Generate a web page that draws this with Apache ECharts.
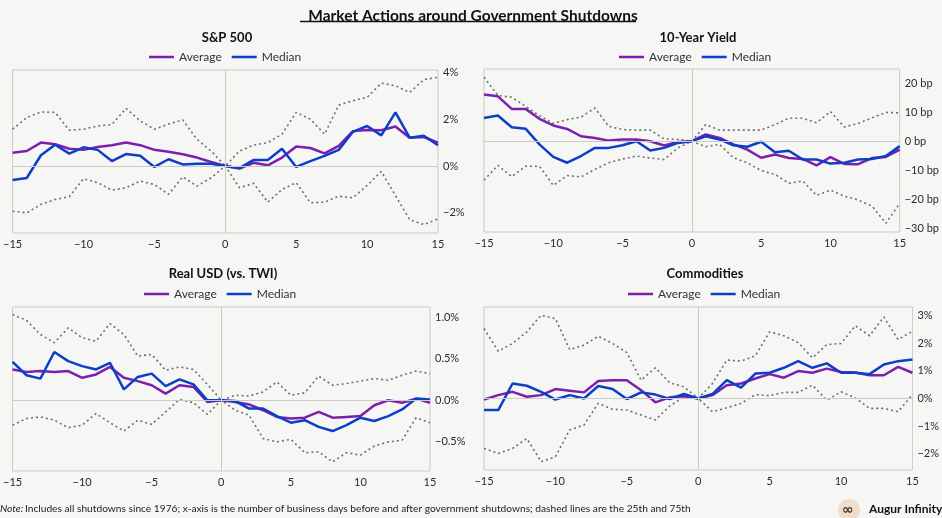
<!DOCTYPE html>
<html><head><meta charset="utf-8">
<script src="https://cdn.jsdelivr.net/npm/echarts@6/dist/echarts.min.js"></script>
<style>html,body{margin:0;padding:0;background:#f6f6f4;}#c{width:942px;height:518px;}</style>
</head><body><div id="c"></div>
<script>
const days = [-15,-14,-13,-12,-11,-10,-9,-8,-7,-6,-5,-4,-3,-2,-1,0,1,2,3,4,5,6,7,8,9,10,11,12,13,14,15];
const xTicks = [-15,-10,-5,0,5,10,15];

const spxAvg = [0.57,0.64,1.0,0.93,0.74,0.69,0.81,0.89,1.0,0.89,0.69,0.61,0.5,0.36,0.17,0,-0.11,0.14,0.03,0.36,0.83,0.77,0.54,0.86,1.49,1.54,1.53,1.69,1.21,1.24,1.0];
const spxMed = [-0.6,-0.51,0.46,0.91,0.53,0.8,0.69,0.21,0.51,0.44,-0.04,0.29,0.07,0.1,0.1,0,-0.09,0.26,0.26,0.74,-0.04,0.21,0.43,0.69,1.46,1.71,1.31,2.29,1.21,1.29,0.89];
const spxP75 = [1.57,2.07,2.31,2.29,1.53,1.57,1.71,1.77,2.46,1.93,1.57,1.79,1.97,1.14,0.64,0,0.64,0.89,1.0,1.36,2.29,2.0,1.36,2.6,2.79,2.93,3.54,3.43,3.14,3.69,3.79];
const spxP25 = [-1.93,-2.0,-1.64,-1.43,-1.31,-0.54,-0.71,-1.03,-0.93,-0.64,-0.79,-1.21,-0.46,-0.86,-0.5,0,-0.93,-0.74,-1.54,-1.0,-0.71,-1.57,-1.54,-1.29,-1.36,-0.83,-0.23,-1.26,-2.29,-2.5,-2.26];
const spxTicks = [-2,0,2,4];

const ylAvg = [16.0,15.4,11.1,11.1,7.7,5.4,4.2,1.7,1.1,0.2,0.6,0.6,0,-1.5,-0.3,0,2.3,1.1,-1.1,-2.9,-5.7,-4.6,-5.8,-6.1,-8.3,-5.5,-7.8,-7.9,-5.8,-5.4,-2.9];
const ylMed = [8.0,8.8,4.8,4.3,-1.1,-5.4,-7.4,-5.1,-2.3,-2.3,-1.4,0,-3.2,-2.3,-0.6,0,1.7,0.6,-1.4,-1.9,-0.2,-3.8,-3.3,-6.3,-6.3,-7.7,-7.4,-6.3,-6.1,-5.1,-1.7];
const ylP75 = [22,15.7,15.1,12.0,8.8,6.1,7.4,8.3,11.4,5.1,4.0,3.8,3.8,0.8,0.6,0,5.7,3.8,3.8,3.8,3.8,5.7,7.9,7.9,6.3,10.2,4.9,6.1,8.0,9.9,9.7];
const ylP25 = [-13.4,-8.3,-12.2,-8.6,-8.6,-15.2,-11.8,-12.3,-9.7,-7.4,-6.1,-5.1,-5.8,-6.3,-2.3,0,-1.9,-1.1,-5.7,-7.4,-10.1,-11.4,-14.5,-13.7,-18.6,-16.8,-18.9,-20.2,-22.3,-28.2,-21.4];
const ylTicks = [-30,-20,-10,0,10,20];

const usdAvg = [0.37,0.34,0.35,0.34,0.35,0.27,0.31,0.40,0.27,0.23,0.18,0.08,0.18,0.16,-0.02,0,-0.02,-0.05,-0.12,-0.2,-0.22,-0.21,-0.14,-0.21,-0.2,-0.19,-0.06,0.0,-0.03,0.02,-0.03];
const usdMed = [0.46,0.3,0.26,0.58,0.47,0.41,0.37,0.45,0.13,0.28,0.32,0.17,0.25,0.19,0,0,-0.01,-0.1,-0.1,-0.19,-0.27,-0.24,-0.32,-0.37,-0.3,-0.21,-0.25,-0.19,-0.11,0.02,0.01];
const usdP75 = [1.03,0.96,0.79,0.69,0.87,0.75,0.71,0.92,0.79,0.53,0.55,0.36,0.4,0.37,0.19,0,0.06,0.05,0.1,0.22,0.06,0.09,0.29,0.18,0.2,0.23,0.26,0.24,0.3,0.35,0.32];
const usdP25 = [-0.3,-0.22,-0.2,-0.24,-0.33,-0.3,-0.16,-0.27,-0.37,-0.24,-0.29,-0.14,0.01,-0.03,-0.17,0,-0.12,-0.18,-0.46,-0.5,-0.47,-0.63,-0.62,-0.74,-0.63,-0.66,-0.55,-0.5,-0.48,-0.21,-0.27];
const usdTicks = [-0.5,0,0.5,1.0];

const cmdAvg = [-0.04,0.12,0.24,0.06,0.12,0.34,0.28,0.22,0.63,0.66,0.66,0.3,-0.14,0.04,0.08,0,0.12,0.48,0.54,0.72,0.88,0.75,0.99,0.93,1.08,0.96,0.94,0.84,0.84,1.14,0.93];
const cmdMed = [-0.42,-0.42,0.54,0.46,0.24,-0.04,0.12,0,0.45,0.34,-0.02,0.22,0.14,-0.02,0.16,0,0.16,0.66,0.39,0.9,0.93,1.11,1.35,1.11,1.27,0.93,0.93,0.88,1.23,1.35,1.41];
const cmdP75 = [2.53,1.71,1.99,2.41,3.01,2.89,1.77,1.93,2.25,1.99,1.66,0.66,1.11,0.57,0.42,0,0.54,1.39,1.35,1.54,2.41,2.27,2.02,1.47,1.95,1.99,2.63,2.27,2.95,2.13,2.43];
const cmdP25 = [-1.81,-1.99,-1.81,-1.45,-2.29,-2.11,-1.14,-0.96,-0.18,-0.39,-0.42,-0.6,-0.78,-0.28,0.06,0,-0.48,-0.34,-0.18,0.14,0.1,0.22,0.22,0.48,-0.06,0.24,0.02,-0.36,-0.36,-0.48,0.14];
const cmdTicks = [-2,-1,0,1,2,3];

const PURPLE = '#7d1fae', BLUE = '#0b3fc8', DOT = '#6e6e6e', TXT = '#2a2a2a', BORDER = '#cdc9c3';
const FONT = 'Lato, "Noto Sans", sans-serif';
const minus = v => (v < 0 ? '\u2212' : '') + Math.abs(v);

const panels = [
  {title:'S&P 500', grid:{left:7, top:70, width:431, height:163}, min:-2.86, max:4.1, ticks:spxTicks, fmt:v=>minus(v)+'%', avg:spxAvg, med:spxMed, p75:spxP75, p25:spxP25, legendLeft:144, legendTop:46, titleX:222, titleY:26},
  {title:'10-Year Yield', grid:{left:484, top:69, width:419, height:163}, min:-31.2, max:24.8, ticks:ylTicks, fmt:v=>minus(v)+' bp', avg:ylAvg, med:ylMed, p75:ylP75, p25:ylP25, legendLeft:614, legendTop:46, titleX:693, titleY:26},
  {title:'Real USD (vs. TWI)', grid:{left:7, top:307, width:423, height:164}, min:-0.85, max:1.12, ticks:usdTicks, fmt:v=>(v<0?'\u2212':'')+Math.abs(v).toFixed(1)+'%', avg:usdAvg, med:usdMed, p75:usdP75, p25:usdP25, legendLeft:139, legendTop:283, titleX:218, titleY:262},
  {title:'Commodities', grid:{left:484, top:307, width:432, height:163}, min:-2.59, max:3.31, ticks:cmdTicks, fmt:v=>minus(v)+'%', avg:cmdAvg, med:cmdMed, p75:cmdP75, p25:cmdP25, legendLeft:623, legendTop:283, titleX:700, titleY:262}
];

const pair = arr => days.map((d,i)=>[d, arr[i]]);

const option = {
  backgroundColor:'#f6f6f4',
  animation:false,
  textStyle:{fontFamily:FONT},
  title:[{text:'Market Actions around Government Shutdowns', left:468, top:3, textAlign:'center',
          textStyle:{fontFamily:FONT, fontSize:15.5, fontWeight:'bold', color:'#111'}}],
  legend:[], grid:[], xAxis:[], yAxis:[], series:[],
  graphic:[
    {type:'line', shape:{x1:300, y1:21.5, x2:636, y2:21.5}, style:{stroke:'#111', lineWidth:1.4}},
    {type:'text', left:0, top:504, style:{text:'Note:', font:'italic 10.2px Lato, sans-serif', fill:'#222'}},
    {type:'text', left:25, top:504, style:{text:'Includes all shutdowns since 1976; x-axis is the number of business days before and after government shutdowns; dashed lines are the 25th and 75th', font:'10.2px Lato, sans-serif', fill:'#222'}},
    {type:'circle', shape:{cx:849, cy:510, r:11}, style:{fill:'#f0dcc8'}},
    {type:'text', left:842, top:503, style:{text:'\u221e', font:'bold 14px "DejaVu Sans", sans-serif', fill:'#333'}},
    {type:'text', left:869, top:503, style:{text:'Augur Infinity', font:'bold 12px Lato, sans-serif', fill:'#111'}}
  ]
};

panels.forEach((p, k) => {
  option.title.push({text:p.title, left:p.titleX, top:p.titleY, textAlign:'center',
    textStyle:{fontFamily:FONT, fontSize:13, fontWeight:'bold', color:'#111'}});
  option.legend.push({data:['Average','Median'], left:p.legendLeft, top:p.legendTop, icon:'rect',
    itemWidth:25, itemHeight:2.5, itemGap:10, textStyle:{fontFamily:FONT, fontSize:12, color:'#333'}, selectedMode:false});
  option.grid.push(Object.assign({show:true, borderColor:BORDER, borderWidth:1, backgroundColor:'transparent'}, p.grid));
  option.xAxis.push({type:'value', gridIndex:k, min:-15, max:15, interval:5,
    axisLine:{show:false}, axisTick:{show:false}, splitLine:{show:false},
    axisLabel:{fontFamily:FONT, fontSize:11, color:TXT, margin:6, formatter:v=>minus(v)}});
  option.yAxis.push({type:'value', gridIndex:k, position:'right', min:p.min, max:p.max,
    axisLine:{show:false}, axisTick:{show:false}, splitLine:{show:false},
    axisLabel:{fontFamily:FONT, fontSize:11, color:TXT, margin:5, customValues:p.ticks, formatter:p.fmt, showMinLabel:true, showMaxLabel:true}});
  const base = {type:'line', xAxisIndex:k, yAxisIndex:k, showSymbol:false, symbol:'none', silent:true};
  option.series.push(Object.assign({}, base, {name:'75th', data:pair(p.p75), lineStyle:{color:DOT, width:1.6, type:[2,3]},
    markLine:{silent:true, symbol:'none', label:{show:false}, lineStyle:{color:BORDER, width:1, type:'solid'},
      data:[{xAxis:0},{yAxis:0}]}}));
  option.series.push(Object.assign({}, base, {name:'25th', data:pair(p.p25), lineStyle:{color:DOT, width:1.6, type:[2,3]}}));
  option.series.push(Object.assign({}, base, {name:'Average', data:pair(p.avg), color:PURPLE, lineStyle:{color:PURPLE, width:2.5}}));
  option.series.push(Object.assign({}, base, {name:'Median', data:pair(p.med), color:BLUE, lineStyle:{color:BLUE, width:2.5}}));
});

const chart = echarts.init(document.getElementById('c'), null, {renderer:'canvas'});
chart.setOption(option);
</script>
</body></html>
